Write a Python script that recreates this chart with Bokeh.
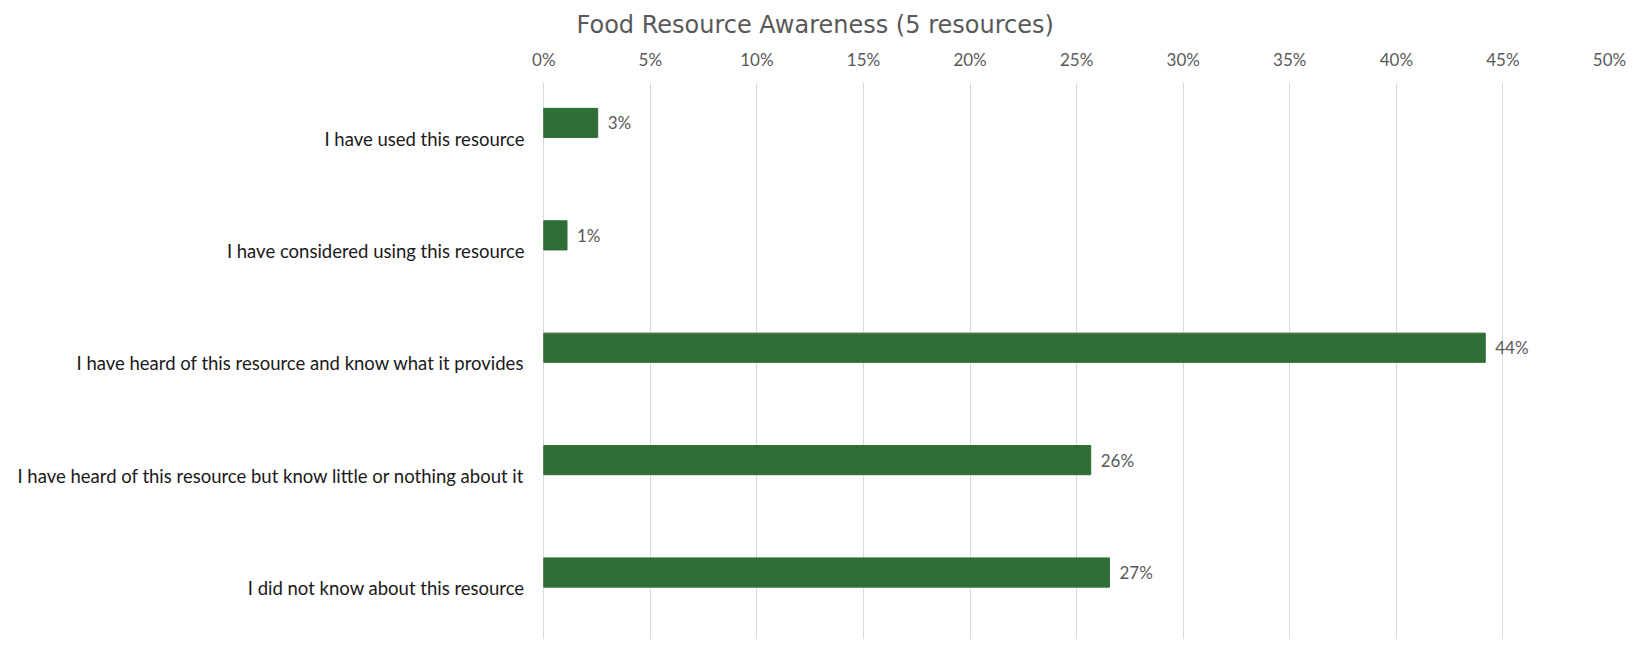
from bokeh.plotting import figure
from bokeh.models import Range1d, FixedTicker, PrintfTickFormatter, ColumnDataSource, LabelSet
from bokeh.embed import file_html
from bokeh.resources import INLINE
from bokeh.core.properties import value

categories = [
    "I have used this resource",
    "I have considered using this resource",
    "I have heard of this resource and know what it provides",
    "I have heard of this resource but know little or nothing about it",
    "I did not know about this resource",
]
percents = [2.53, 1.09, 44.17, 25.66, 26.54]
labels = [f"{round(v)}%" for v in percents]
x_ticks = [0, 5, 10, 15, 20, 25, 30, 35, 40, 45, 50]

FONT = "Lato"
BAR = "#2F6E36"
BAR_SHIFT = 0.14   # first (only filled) series of a two-series cluster sits above band centre

band_pos = [i + 0.5 for i in range(len(categories))]
bar_pos = [c - BAR_SHIFT for c in band_pos]

src = ColumnDataSource(dict(y=bar_pos, val=percents, lab=labels))

p = figure(
    width=1626, height=639,
    y_range=Range1d(4.956, 0),
    x_range=Range1d(-0.06, 50),
    x_axis_location="above",
    output_backend="svg", toolbar_location=None,
    min_border_left=542, min_border_right=17, min_border_top=82, min_border_bottom=0,
)
p.outline_line_color = None
p.title.text = "Food Resource Awareness (5 resources)"
p.title.text_font = "DejaVu Sans"
p.title.text_font_size = "24px"
p.title.text_font_style = "normal"
p.title.text_color = "#595959"
p.title.align = "left"
p.title.offset = 34
p.title.standoff = 13

p.hbar(y="y", right="val", left=0, height=0.26,
       source=src, fill_color=BAR, line_color=BAR)

lbl = LabelSet(x="val", y="y", text="lab", source=src,
               x_offset=10, text_baseline="middle", text_font=value(FONT),
               text_font_size="17px", text_color="#595959")
p.add_layout(lbl)

xa = p.xaxis[0]
xa.ticker = FixedTicker(ticks=x_ticks)
xa.formatter = PrintfTickFormatter(format="%d%%")
xa.axis_line_color = None
xa.major_tick_line_color = None
xa.minor_tick_line_color = None
xa.major_label_text_font = FONT
xa.major_label_text_font_size = "17px"
xa.major_label_text_color = "#595959"
xa.major_label_standoff = 7

ya = p.yaxis[0]
ya.ticker = FixedTicker(ticks=band_pos)
ya.major_label_overrides = {c: t for c, t in zip(band_pos, categories)}
ya.axis_line_color = None
ya.major_tick_line_color = None
ya.minor_tick_line_color = None
ya.major_label_text_font = FONT
ya.major_label_text_font_size = "18.5px"
ya.major_label_text_color = "#1a1a1a"
ya.major_label_standoff = 12

p.xgrid.grid_line_color = "#d9d9d9"
p.xgrid.ticker = FixedTicker(ticks=x_ticks)
p.ygrid.grid_line_color = None

open("out.html", "w").write(file_html(p, INLINE))
